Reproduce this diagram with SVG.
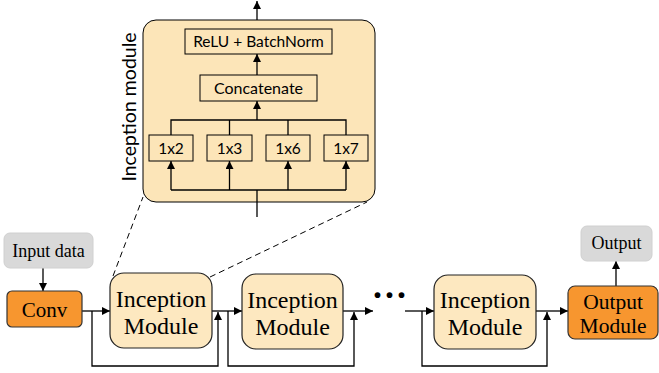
<svg xmlns="http://www.w3.org/2000/svg" width="659" height="373" viewBox="0 0 659 373">
<defs>
<marker id="ah" viewBox="0 0 10 10" refX="10" refY="5" markerWidth="8" markerHeight="8" markerUnits="userSpaceOnUse" orient="auto">
<path d="M0,0 L10,5 L0,10 z" fill="#000"/>
</marker>
<style>
.ln{fill:none;stroke:#000;stroke-width:1.3}
.dash{fill:none;stroke:#000;stroke-width:1;stroke-dasharray:6,4}
.panel{fill:#fce5b8;stroke:#000;stroke-width:1}
.ib{fill:#fce5b8;stroke:#000;stroke-width:1}
.im{fill:#fde8c0;stroke:#222;stroke-width:1.2}
.org{fill:#f7962f;stroke:#333;stroke-width:1.2}
.gry{fill:#d9d9d9;stroke:#d0d0d0;stroke-width:1}
.sans{font-family:Lato,"Liberation Sans",sans-serif;fill:#000;text-anchor:middle}
.serif{font-family:"Liberation Serif","DejaVu Serif",serif;fill:#000;text-anchor:middle}
</style>
</defs>

<g id="inception-panel">
<rect class="panel" x="143" y="20" width="232" height="182" rx="13"/>
<text class="sans" font-size="19.5" transform="translate(129,107) rotate(-90)" dy="7">Inception module</text>
</g>

<g id="connectors">
<line class="dash" x1="113" y1="276" x2="143" y2="197"/>
<line class="dash" x1="210" y1="277" x2="367" y2="202"/>
<line class="ln" x1="257" y1="20" x2="257" y2="1" marker-end="url(#ah)"/>
<line class="ln" x1="257" y1="75" x2="257" y2="54" marker-end="url(#ah)"/>
<line class="ln" x1="257" y1="120" x2="257" y2="101" marker-end="url(#ah)"/>
<polyline class="ln" points="171,135 171,120 346,120 346,135"/>
<line class="ln" x1="229.5" y1="120" x2="229.5" y2="135"/>
<line class="ln" x1="288" y1="120" x2="288" y2="135"/>
<line class="ln" x1="171" y1="190" x2="346" y2="190"/>
<line class="ln" x1="171" y1="190" x2="171" y2="161" marker-end="url(#ah)"/>
<line class="ln" x1="229.5" y1="190" x2="229.5" y2="161" marker-end="url(#ah)"/>
<line class="ln" x1="288" y1="190" x2="288" y2="161" marker-end="url(#ah)"/>
<line class="ln" x1="346" y1="190" x2="346" y2="161" marker-end="url(#ah)"/>
<line class="ln" x1="257" y1="217" x2="257" y2="190"/>
<line class="ln" x1="43" y1="268" x2="43" y2="291" marker-end="url(#ah)"/>
<line class="ln" x1="82" y1="311" x2="110" y2="311" marker-end="url(#ah)"/>
<polyline class="ln" points="92,311 92,366 218,366 218,312" marker-end="url(#ah)"/>
<line class="ln" x1="212" y1="311" x2="242" y2="311" marker-end="url(#ah)"/>
<polyline class="ln" points="228,311 228,366 354,366 354,312" marker-end="url(#ah)"/>
<line class="ln" x1="343" y1="311" x2="373" y2="311" marker-end="url(#ah)"/>
<line class="ln" x1="405" y1="311" x2="434" y2="311" marker-end="url(#ah)"/>
<polyline class="ln" points="422,311 422,366 547,366 547,312" marker-end="url(#ah)"/>
<line class="ln" x1="536" y1="311" x2="568" y2="311" marker-end="url(#ah)"/>
<line class="ln" x1="616" y1="286" x2="616" y2="261" marker-end="url(#ah)"/>
</g>

<g id="relu-bn">
<rect class="ib" x="185" y="29" width="147" height="25"/>
<text class="sans" x="258.5" y="47" font-size="15.5">ReLU + BatchNorm</text>
</g>
<g id="concat">
<rect class="ib" x="200" y="75" width="117" height="26"/>
<text class="sans" x="258.5" y="93.5" font-size="16">Concatenate</text>
</g>
<g id="k1x2">
<rect class="ib" x="149" y="135" width="44" height="26"/>
<text class="sans" x="171" y="153.5" font-size="15.5">1x2</text>
</g>
<g id="k1x3">
<rect class="ib" x="207" y="135" width="45" height="26"/>
<text class="sans" x="229.5" y="153.5" font-size="15.5">1x3</text>
</g>
<g id="k1x6">
<rect class="ib" x="266" y="135" width="44" height="26"/>
<text class="sans" x="288" y="153.5" font-size="15.5">1x6</text>
</g>
<g id="k1x7">
<rect class="ib" x="324" y="135" width="44" height="26"/>
<text class="sans" x="346" y="153.5" font-size="15.5">1x7</text>
</g>

<g id="input-data">
<rect class="gry" x="4" y="233" width="89" height="35" rx="6"/>
<text class="serif" x="48.5" y="257" font-size="18">Input data</text>
</g>
<g id="conv">
<rect class="org" x="7" y="291" width="75" height="36" rx="5"/>
<text class="serif" x="44.5" y="317" font-size="21">Conv</text>
</g>
<g id="inception1">
<rect class="im" x="110" y="273" width="102" height="75" rx="14"/>
<text class="serif" x="161" y="307" font-size="24">Inception</text>
<text class="serif" x="161" y="334" font-size="24">Module</text>
</g>
<g id="inception2">
<rect class="im" x="242" y="274" width="101" height="75" rx="14"/>
<text class="serif" x="292.5" y="308" font-size="24">Inception</text>
<text class="serif" x="292.5" y="335" font-size="24">Module</text>
</g>
<g id="dots">
<text class="serif" x="389.5" y="307" font-size="36" font-weight="bold">···</text>
</g>
<g id="inception3">
<rect class="im" x="434" y="275" width="102" height="74" rx="14"/>
<text class="serif" x="485" y="308" font-size="24">Inception</text>
<text class="serif" x="485" y="335" font-size="24">Module</text>
</g>
<g id="output-module">
<rect class="org" x="568" y="286" width="90" height="53" rx="7"/>
<text class="serif" x="613" y="309" font-size="21.5">Output</text>
<text class="serif" x="613" y="333" font-size="21.5">Module</text>
</g>
<g id="output">
<rect class="gry" x="581" y="226" width="71" height="35" rx="6"/>
<text class="serif" x="616.5" y="249" font-size="18">Output</text>
</g>
</svg>
